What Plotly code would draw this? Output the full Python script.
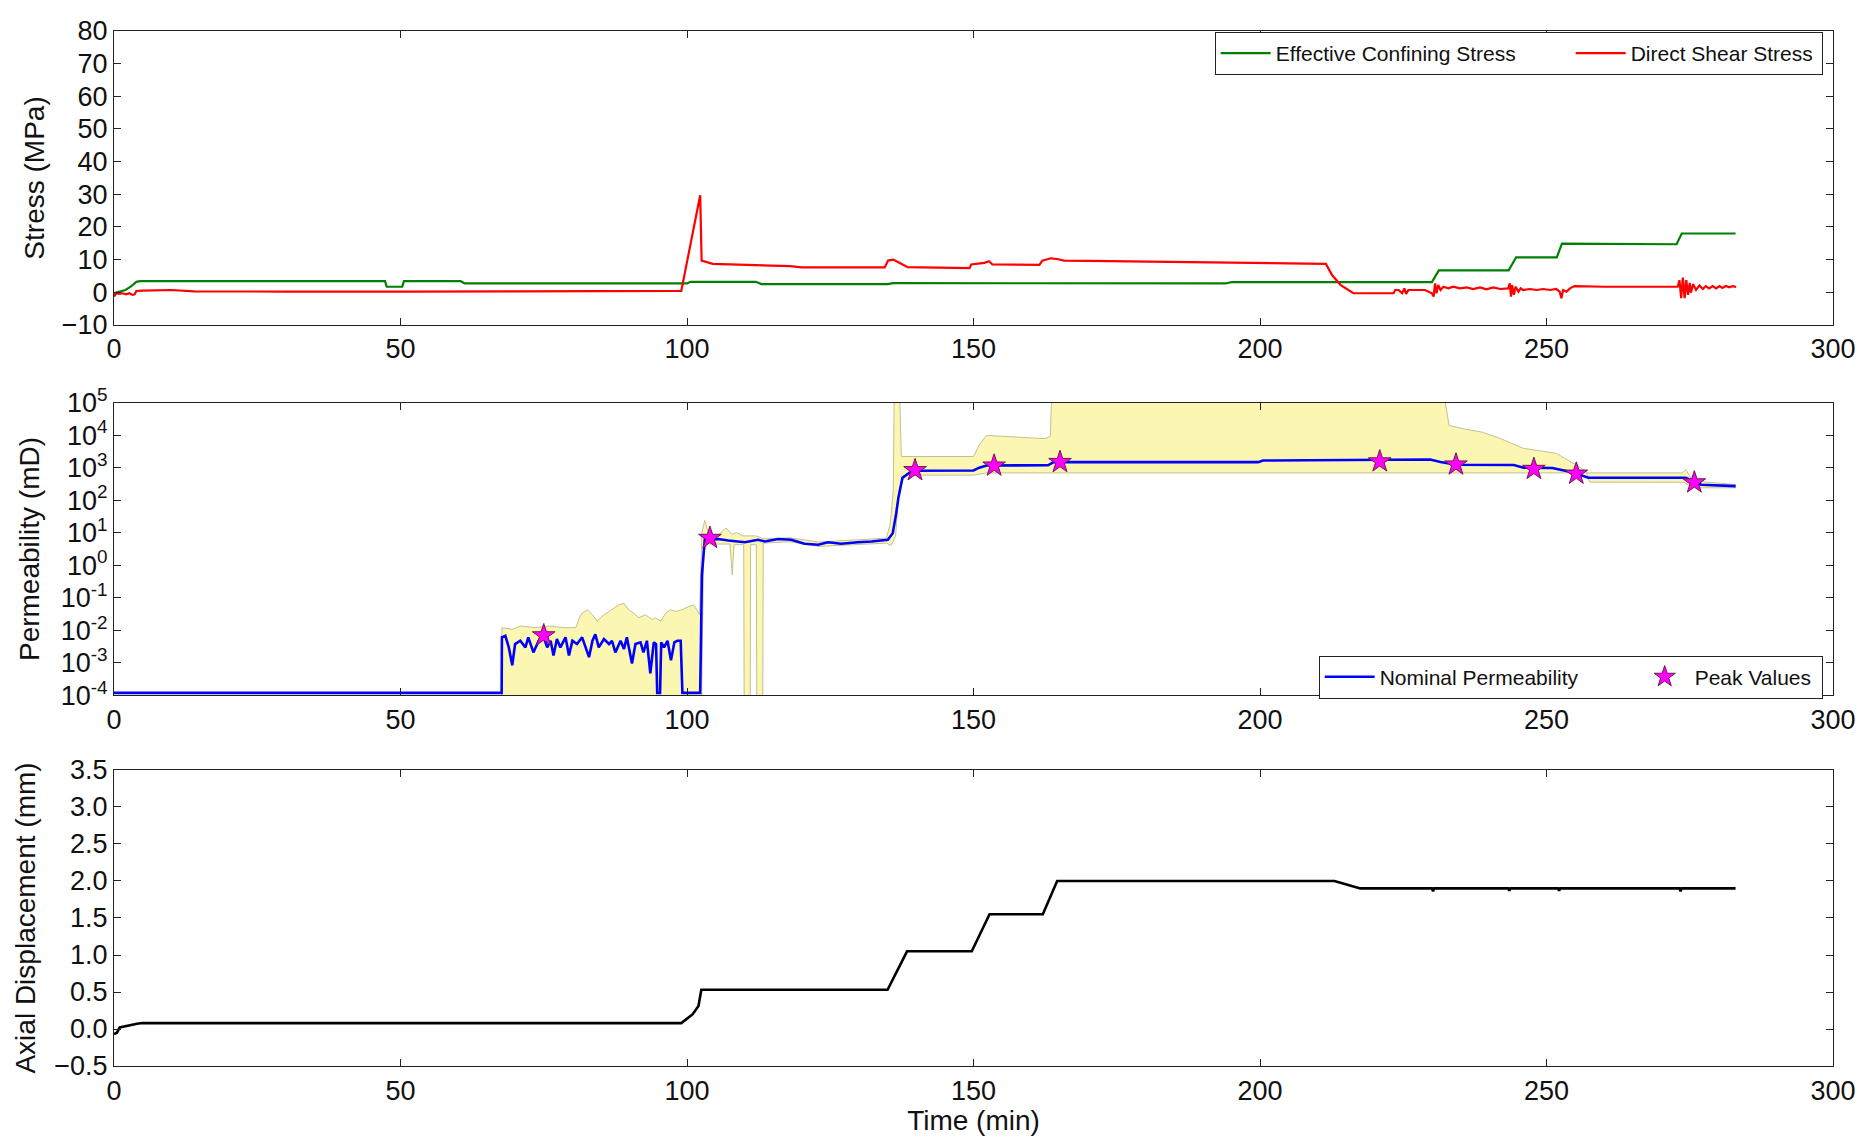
import plotly.graph_objects as go

# ---------------- Stress panel ----------------
confining_t = [0, 1.0, 2.0, 2.9, 3.9, 4.5, 47.3, 47.6, 50.3, 50.6, 60.5, 61.2, 100.0, 100.6,
               112.0, 113.0, 135.0, 136.0, 194.0, 195.0, 230.0, 231.2, 243.4, 244.7, 251.8,
               252.7, 262.0, 272.7, 273.6, 283.0]
confining_v = [-0.3, 0.2, 0.7, 1.7, 3.2, 3.4, 3.4, 1.7, 1.7, 3.4, 3.4, 2.7, 2.7, 3.2,
               3.2, 2.5, 2.5, 2.8, 2.7, 3.1, 3.1, 6.7, 6.7, 10.7, 10.7,
               14.9, 14.8, 14.7, 18.0, 18.0]

shear_t = [0, 0.4, 0.9, 1.5, 2.1, 2.7, 3.2, 3.6, 3.9, 5.0, 10.0, 14.0, 30.0, 48.0, 50.0, 70.0,
           90.0, 99.0, 102.3, 102.55, 104.5, 110.0, 118.0, 120.0, 134.5, 135.1, 136.0, 136.9,
           138.5, 149.3, 149.6, 151.9, 152.7, 153.3, 161.5, 162.0, 163.5, 164.6, 165.8, 170.0,
           190.0, 211.5, 212.6, 214.1, 216.3, 223.3, 223.6, 224.2, 224.8, 225.2, 225.5, 225.9,
           226.5, 228.8, 230.0, 230.3, 230.55, 230.8, 231.1, 231.5, 232.0, 232.9, 233.7, 234.9,
           236.1, 237.2, 238.4, 239.5, 240.7, 241.9, 243.3, 243.6, 243.8, 244.0, 244.3, 244.6,
           245.1, 245.5, 245.9, 247.1, 248.3, 249.4, 250.6, 251.7, 252.3, 252.6, 252.9, 253.5,
           254.1, 254.9, 260.0, 272.9, 273.2, 273.5, 273.8, 274.1, 274.4, 274.7, 275.0, 275.2,
           275.6, 276.1, 276.7, 277.3, 277.8, 278.4, 279.0, 279.6, 280.2, 280.7, 281.3, 281.9,
           282.5, 283.1]
shear_v = [-1.3, -0.3, -0.5, -0.3, -0.6, -0.3, -0.8, -0.6, 0.4, 0.5, 0.7, 0.3, 0.2, 0.4, 0.2, 0.3,
           0.3, 0.4, 29.7, 9.7, 8.7, 8.5, 8.0, 7.6, 7.6, 9.7, 10.0, 9.2,
           7.7, 7.4, 8.5, 9.0, 9.5, 8.5, 8.4, 9.7, 10.4, 10.2, 9.7, 9.6,
           9.2, 8.7, 5.2, 2.2, -0.3, -0.3, 0.7, 0.7, -0.3, 1.2, -0.5, 0.7,
           0.7, 0.7, -0.3, -1.3, 2.7, -0.3, 2.2, 0.7, 1.7, 1.2, 1.7, 1.2,
           1.5, 1.0, 1.5, 0.9, 1.5, 1.0, 1.2, 2.7, -1.3, 2.2, -0.8, 1.7,
           0.2, 1.2, 0.7, 1.0, 0.7, 1.0, 0.7, 1.0, 0.2, -1.8, 0.7, 0.2,
           1.2, 1.9, 1.7, 1.7, 3.7, -1.8, 4.5, -1.8, 3.7, -0.8, 2.9, -0.1,
           2.5, 0.7, 2.1, 1.0, 1.9, 1.2, 1.9, 1.2, 1.9, 1.3, 1.9, 1.5,
           1.9, 1.6]

# ---------------- Permeability panel ----------------
perm_t = [0, 67.65, 67.7, 68.3, 68.9, 69.5, 70.0, 70.9, 71.8, 72.3, 73.2, 74.1, 75.0, 75.6,
          76.2, 76.7, 77.3, 77.9, 78.8, 79.4, 80.0, 80.8, 81.7, 82.3, 82.9, 83.5, 84.0, 84.6,
          85.5, 86.4, 86.9, 87.5, 88.4, 89.0, 89.5, 90.4, 91.0, 91.9, 92.4, 93.0, 93.6, 94.2,
          94.6, 94.8, 95.3, 95.5, 96.0, 96.6, 97.2, 97.8, 98.3, 98.9, 99.2, 102.3, 102.6,
          103.1, 105.45, 107.2, 110.1, 112.4, 113.6, 115.9, 118.2, 120.5, 122.9, 124.6, 126.9,
          129.8, 132.2, 135.05, 135.9, 136.5, 136.9, 137.6, 139.3, 150.0, 151.0, 152.3, 163.0,
          164.0, 199.7, 200.5, 228.5, 229.7, 231.5, 234.2, 244.3, 246.0, 251.0, 254.5, 257.3,
          274.3, 277.0, 283.0]
perm_v = [1.2e-4, 1.2e-4, 6.1e-3, 6.8e-3, 3.0e-3, 8.5e-4, 3.8e-3, 4.8e-3, 3.0e-3, 6.1e-3,
          2.1e-3, 4.8e-3, 6.1e-3, 3.0e-3, 4.8e-3, 1.7e-3, 5.4e-3, 3.0e-3, 6.1e-3, 1.7e-3,
          4.8e-3, 3.8e-3, 6.1e-3, 3.0e-3, 1.5e-3, 4.8e-3, 7.6e-3, 3.0e-3, 5.4e-3, 3.8e-3,
          4.8e-3, 2.1e-3, 4.8e-3, 2.7e-3, 6.1e-3, 9.6e-4, 3.8e-3, 4.3e-3, 2.1e-3, 4.8e-3,
          4.8e-4, 4.3e-3, 3.8e-3, 1.2e-4, 1.2e-4, 4.3e-3, 3.0e-3, 4.8e-3, 1.2e-3, 4.3e-3,
          4.8e-3, 4.8e-3, 1.2e-4, 1.2e-4, 0.5,
          6.1, 6.4, 5.8, 5.1, 6.1, 5.4, 6.4, 6.1, 4.6, 4.3, 5.1, 4.6,
          5.1, 5.4, 6.1, 9.7, 38.6, 122, 490, 800, 820, 1000, 1170, 1180,
          1480, 1480, 1650, 1700, 1780, 1500, 1230, 1200, 1000, 980, 720, 490,
          490, 300, 270]

# envelope of the permeability estimate (upper edge, then lower edge)
band_upper_t = [67.65, 67.7, 69.5, 71.0, 73.5, 76.0, 78.5, 80.6, 81.2, 81.7, 82.6, 83.5, 84.3,
                85.2, 86.4, 87.2, 88.1, 89.0, 89.8, 90.7, 91.6, 92.7, 93.9, 94.5, 95.4, 96.3,
                97.1, 98.0, 99.1, 100.3, 101.1, 101.7, 102.2, 102.6, 103.1, 103.6, 104.5,
                105.6, 106.8, 107.8, 108.7, 109.8, 111.0, 112.0, 113.4, 118.0, 123.0, 129.8,
                134.8, 135.5, 136.0, 136.2, 137.0, 137.4, 150.0, 151.0, 152.3, 162.4, 163.4,
                163.8, 231.4, 233.0, 236.0, 238.7, 242.0, 246.0, 251.7, 255.6, 257.3, 273.7,
                274.3, 275.5, 283.0]
band_upper_v = [1e-6, 0.0121, 0.0108, 0.0136, 0.0121, 0.0136, 0.0121, 0.0121, 0.0242, 0.0341,
                0.043, 0.0304, 0.0192, 0.0271, 0.0383, 0.0483, 0.0608, 0.0682, 0.043, 0.0341,
                0.0242, 0.0304, 0.0216, 0.0242, 0.0192, 0.0341, 0.043, 0.0383, 0.043, 0.054,
                0.0608, 0.043, 0.0304, 10, 24, 12, 7, 9, 14, 9, 10, 8, 8, 8, 6.5, 7.0, 5.2,
                5.9, 6.8, 20, 200, 1e6, 1e6, 2200, 2200, 5000, 9800, 7800, 9000,
                1e6, 1e6, 19800, 15000, 12400, 7800, 3900, 2760, 1090, 690, 690,
                870, 390, 303]
band_lower_t = [283.0, 275.5, 274.0, 257.5, 257.0, 152.3, 150.0, 138.5, 137.6, 137.0, 136.4,
                135.6, 134.8, 129.8, 123.0, 118.0, 113.3, 113.2, 112.2, 112.1, 111.1, 111.0,
                110.0, 109.9, 108.2, 107.9, 107.5, 103.5, 102.9, 102.4, 67.65]
band_lower_v = [240, 240, 355, 360, 690, 690, 590, 590, 420, 200, 8, 4.0, 4.8, 4.4, 3.8, 5.3,
                4.8, 1e-6, 1e-6, 4.3, 4.3, 1e-6, 1e-6, 4.3, 4.3, 0.5, 4.5, 4.5, 2.5, 1e-6,
                1e-6]

peak_t = [75.0, 104.0, 139.8, 153.6, 165.1, 220.9, 234.2, 247.8, 255.2, 275.8]
peak_v = [7.0e-3, 6.9, 830, 1150, 1480, 1550, 1240, 910, 650, 350]

perm_tickvals = [1e-4, 1e-3, 1e-2, 1e-1, 1, 10, 100, 1e3, 1e4, 1e5]
perm_ticktext = ["10<sup>-4</sup>", "10<sup>-3</sup>", "10<sup>-2</sup>", "10<sup>-1</sup>",
                 "10<sup>0</sup>", "10<sup>1</sup>", "10<sup>2</sup>", "10<sup>3</sup>",
                 "10<sup>4</sup>", "10<sup>5</sup>"]

# ---------------- Axial displacement panel ----------------
disp_t = [0, 0.5, 1.0, 2.0, 4.0, 5.0, 99.0, 101.0, 102.0, 102.5, 135.0, 138.4, 149.7, 152.8,
          162.1, 164.6, 213.0, 217.5, 230.0, 230.2, 230.4, 243.3, 243.5, 243.7, 252.0, 252.2,
          252.4, 273.2, 273.4, 273.6, 283.0]
disp_v = [-0.07, -0.05, 0.02, 0.04, 0.07, 0.08, 0.08, 0.2, 0.31, 0.53, 0.53, 1.05, 1.05, 1.55,
          1.55, 2.0, 2.0, 1.9, 1.9, 1.86, 1.9, 1.9, 1.87, 1.9, 1.9, 1.87,
          1.9, 1.9, 1.86, 1.9, 1.9]

time_ticks = [0, 50, 100, 150, 200, 250, 300]

FONT = "Liberation Sans, Arial, sans-serif"

fig = go.Figure()

fig.add_trace(go.Scatter(x=confining_t, y=confining_v, mode="lines", name="Effective Confining Stress",
                         line=dict(color="#008000", width=2.2), xaxis="x", yaxis="y",
                         legend="legend", legendwidth=290))
fig.add_trace(go.Scatter(x=shear_t, y=shear_v, mode="lines", name="Direct Shear Stress",
                         line=dict(color="#ff0000", width=2.2), xaxis="x", yaxis="y",
                         legend="legend", legendwidth=186))

fig.add_trace(go.Scatter(x=band_upper_t + band_lower_t, y=band_upper_v + band_lower_v,
                         mode="lines", fill="toself", fillcolor="#fbf7b3",
                         line=dict(color="#c2bf92", width=1), showlegend=False, hoverinfo="skip",
                         xaxis="x2", yaxis="y2"))
fig.add_trace(go.Scatter(x=perm_t, y=perm_v, mode="lines", name="Nominal Permeability",
                         line=dict(color="#0000ff", width=2.6), xaxis="x2", yaxis="y2",
                         legend="legend2", legendwidth=250))
fig.add_trace(go.Scatter(x=peak_t, y=peak_v, mode="markers", name="Peak Values",
                         marker=dict(symbol="star", size=17, color="#ff00ff",
                                     line=dict(color="#6a1a4a", width=1)),
                         xaxis="x2", yaxis="y2", legend="legend2", legendwidth=122))

fig.add_trace(go.Scatter(x=disp_t, y=disp_v, mode="lines", showlegend=False,
                         line=dict(color="#000000", width=2.6), xaxis="x3", yaxis="y3"))

axis_common = dict(showline=True, linecolor="#222222", linewidth=1.2, mirror="ticks",
                   ticks="inside", ticklen=7, tickcolor="#222222", showgrid=False, zeroline=False,
                   tickfont=dict(family=FONT, size=27, color="#111111"))

x_common = dict(axis_common, range=[0, 300], tickvals=time_ticks)

legend_common = dict(orientation="h", xanchor="right", bordercolor="#222222", borderwidth=1,
                     bgcolor="white", font=dict(family=FONT, size=21), itemwidth=50)

fig.update_layout(
    width=1868, height=1141,
    margin=dict(l=114, r=31, t=24, b=61),
    paper_bgcolor="white", plot_bgcolor="white",
    font=dict(family=FONT, color="#111111"),
    xaxis=dict(x_common, domain=[0, 1], anchor="y"),
    xaxis2=dict(x_common, domain=[0, 1], anchor="y2"),
    xaxis3=dict(x_common, domain=[0, 1], anchor="y3",
                title=dict(text="Time (min)", font=dict(family=FONT, size=28), standoff=4)),
    yaxis=dict(axis_common, domain=[0.716, 1.0], anchor="x", range=[-10, 80], dtick=10,
               title=dict(text="Stress (MPa)", font=dict(family=FONT, size=28), standoff=8)),
    yaxis2=dict(axis_common, domain=[0.358, 0.641], anchor="x2", type="log", range=[-4, 5],
                tickvals=perm_tickvals, ticktext=perm_ticktext,
                title=dict(text="Permeability (mD)", font=dict(family=FONT, size=28), standoff=12)),
    yaxis3=dict(axis_common, domain=[0, 0.286], anchor="x3", range=[-0.5, 3.5], dtick=0.5,
                tickformat=".1f",
                title=dict(text="Axial Displacement (mm)", font=dict(family=FONT, size=28),
                           standoff=10)),
    legend=dict(legend_common, x=0.994, y=0.999, yanchor="top"),
    legend2=dict(legend_common, x=0.994, y=0.355, yanchor="bottom"),
)

fig.write_html("out.html")
